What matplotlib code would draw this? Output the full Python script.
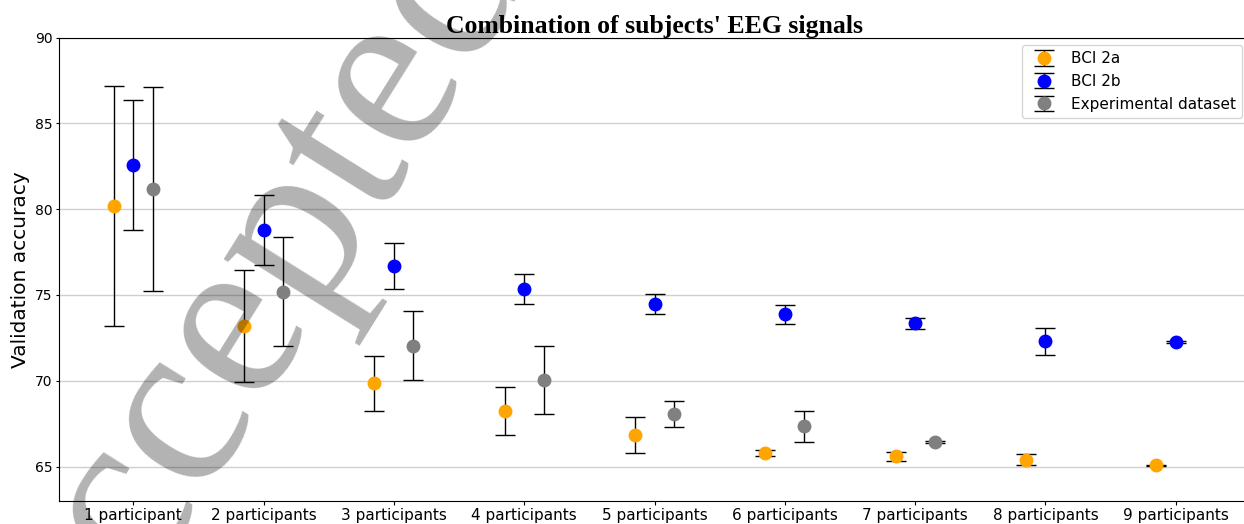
import matplotlib
matplotlib.use("Agg")
import matplotlib.pyplot as plt
import numpy as np

categories = ["1 participant", "2 participants", "3 participants", "4 participants",
              "5 participants", "6 participants", "7 participants", "8 participants",
              "9 participants"]

bci2a_mean = [80.2, 73.2, 69.85, 68.25, 66.83, 65.8, 65.6, 65.4, 65.07]
bci2a_err = [7.0, 3.27, 1.6, 1.39, 1.05, 0.2, 0.25, 0.32, 0.05]

bci2b_mean = [82.58, 78.79, 76.7, 75.36, 74.47, 73.87, 73.34, 72.3, 72.26]
bci2b_err = [3.77, 2.05, 1.33, 0.89, 0.6, 0.55, 0.32, 0.77, 0.05]

exp_mean = [81.17, 75.2, 72.05, 70.05, 68.07, 67.34, 66.42, np.nan, np.nan]
exp_err = [5.95, 3.17, 2.0, 1.97, 0.78, 0.93, 0.05, np.nan, np.nan]

series = [("BCI 2a", bci2a_mean, bci2a_err, "orange", -0.15),
          ("BCI 2b", bci2b_mean, bci2b_err, "blue", 0.0),
          ("Experimental dataset", exp_mean, exp_err, "gray", 0.15)]

fig = plt.figure(figsize=(12.44, 5.24), dpi=100)
ax = fig.add_axes([59 / 1244, 23 / 524, 1191 / 1244, 463.5 / 524])

x = np.arange(len(categories))
for name, mean, err, col, off in series:
    ax.errorbar(x + off, mean, yerr=err, fmt="o", color=col, ecolor="black",
                elinewidth=1, capsize=7, capthick=1, markersize=9, label=name, zorder=3)

ax.set_xticks(x)
ax.set_xticklabels(categories, fontsize=11)
ax.tick_params(axis="x", length=3, pad=2)
ax.tick_params(axis="y", labelsize=10, length=2.5, pad=2)
ax.set_xlim(-0.57, 8.57)
ax.set_ylim(63, 90)
ax.set_yticks([65, 70, 75, 80, 85, 90])
ax.yaxis.grid(True, color="#d0d0d0", linewidth=1)
ax.set_axisbelow(True)
ax.set_ylabel("Validation accuracy", fontsize=14.5, labelpad=4)
ax.set_title("Combination of subjects' EEG signals", fontsize=18.5, fontweight="bold",
             fontfamily="Liberation Serif", pad=3)
ax.legend(loc="upper right", fontsize=11, numpoints=1)

# watermark
fig.text(244 / 1244, 1 - 322 / 524, "Accepted", fontsize=172, fontfamily="Liberation Serif",
         color="black", alpha=0.3, rotation=58, rotation_mode="anchor",
         ha="center", va="center", zorder=10)

fig.savefig("out.png", dpi=100)
